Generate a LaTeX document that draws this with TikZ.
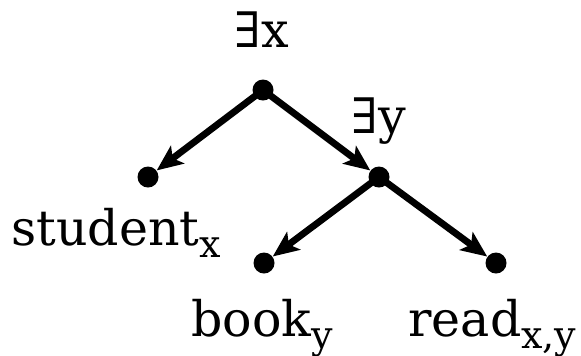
\documentclass[tikz,border=0pt]{standalone}
\usepackage{fontspec}
\setmainfont{DejaVu Serif}
\usetikzlibrary{arrows.meta}

\newcommand{\idx}[1]{\raisebox{-6pt}{\fontsize{19}{21}\selectfont #1}}

\begin{document}
\begin{tikzpicture}[x=0.5pt,y=-0.5pt,
  dot/.style={circle,fill,inner sep=0pt,minimum size=10.5pt},
  lbl/.style={inner sep=0pt,font=\fontsize{24.5}{29}\selectfont},
  edge/.style={-{Stealth[length=13pt,width=11pt,inset=3pt]},line width=3.4pt}]
\useasboundingbox (0,0) rectangle (581,355);
% tree points
\node[dot] (ex) at (263,90) {};
\node[dot] (student) at (148,177) {};
\node[dot] (ey) at (379,177) {};
\node[dot] (book) at (264,263) {};
\node[dot] (read) at (496,263) {};
% labels
\node[lbl,anchor=base] (exlbl) at (262,47) {∃x};
\node[lbl,anchor=base] (eylbl) at (379,133) {∃y};
\node[lbl,anchor=base west] (studentlbl) at (11,245) {student\idx{x}};
\node[lbl,anchor=base west] (booklbl) at (191,336) {book\idx{y}};
\node[lbl,anchor=base west] (readlbl) at (408,336) {read\idx{x,y}};
% edges
\draw[edge] (ex.center) -- (student);
\draw[edge] (ex.center) -- (ey);
\draw[edge] (ey.center) -- (book);
\draw[edge] (ey.center) -- (read);
\end{tikzpicture}
\end{document}
